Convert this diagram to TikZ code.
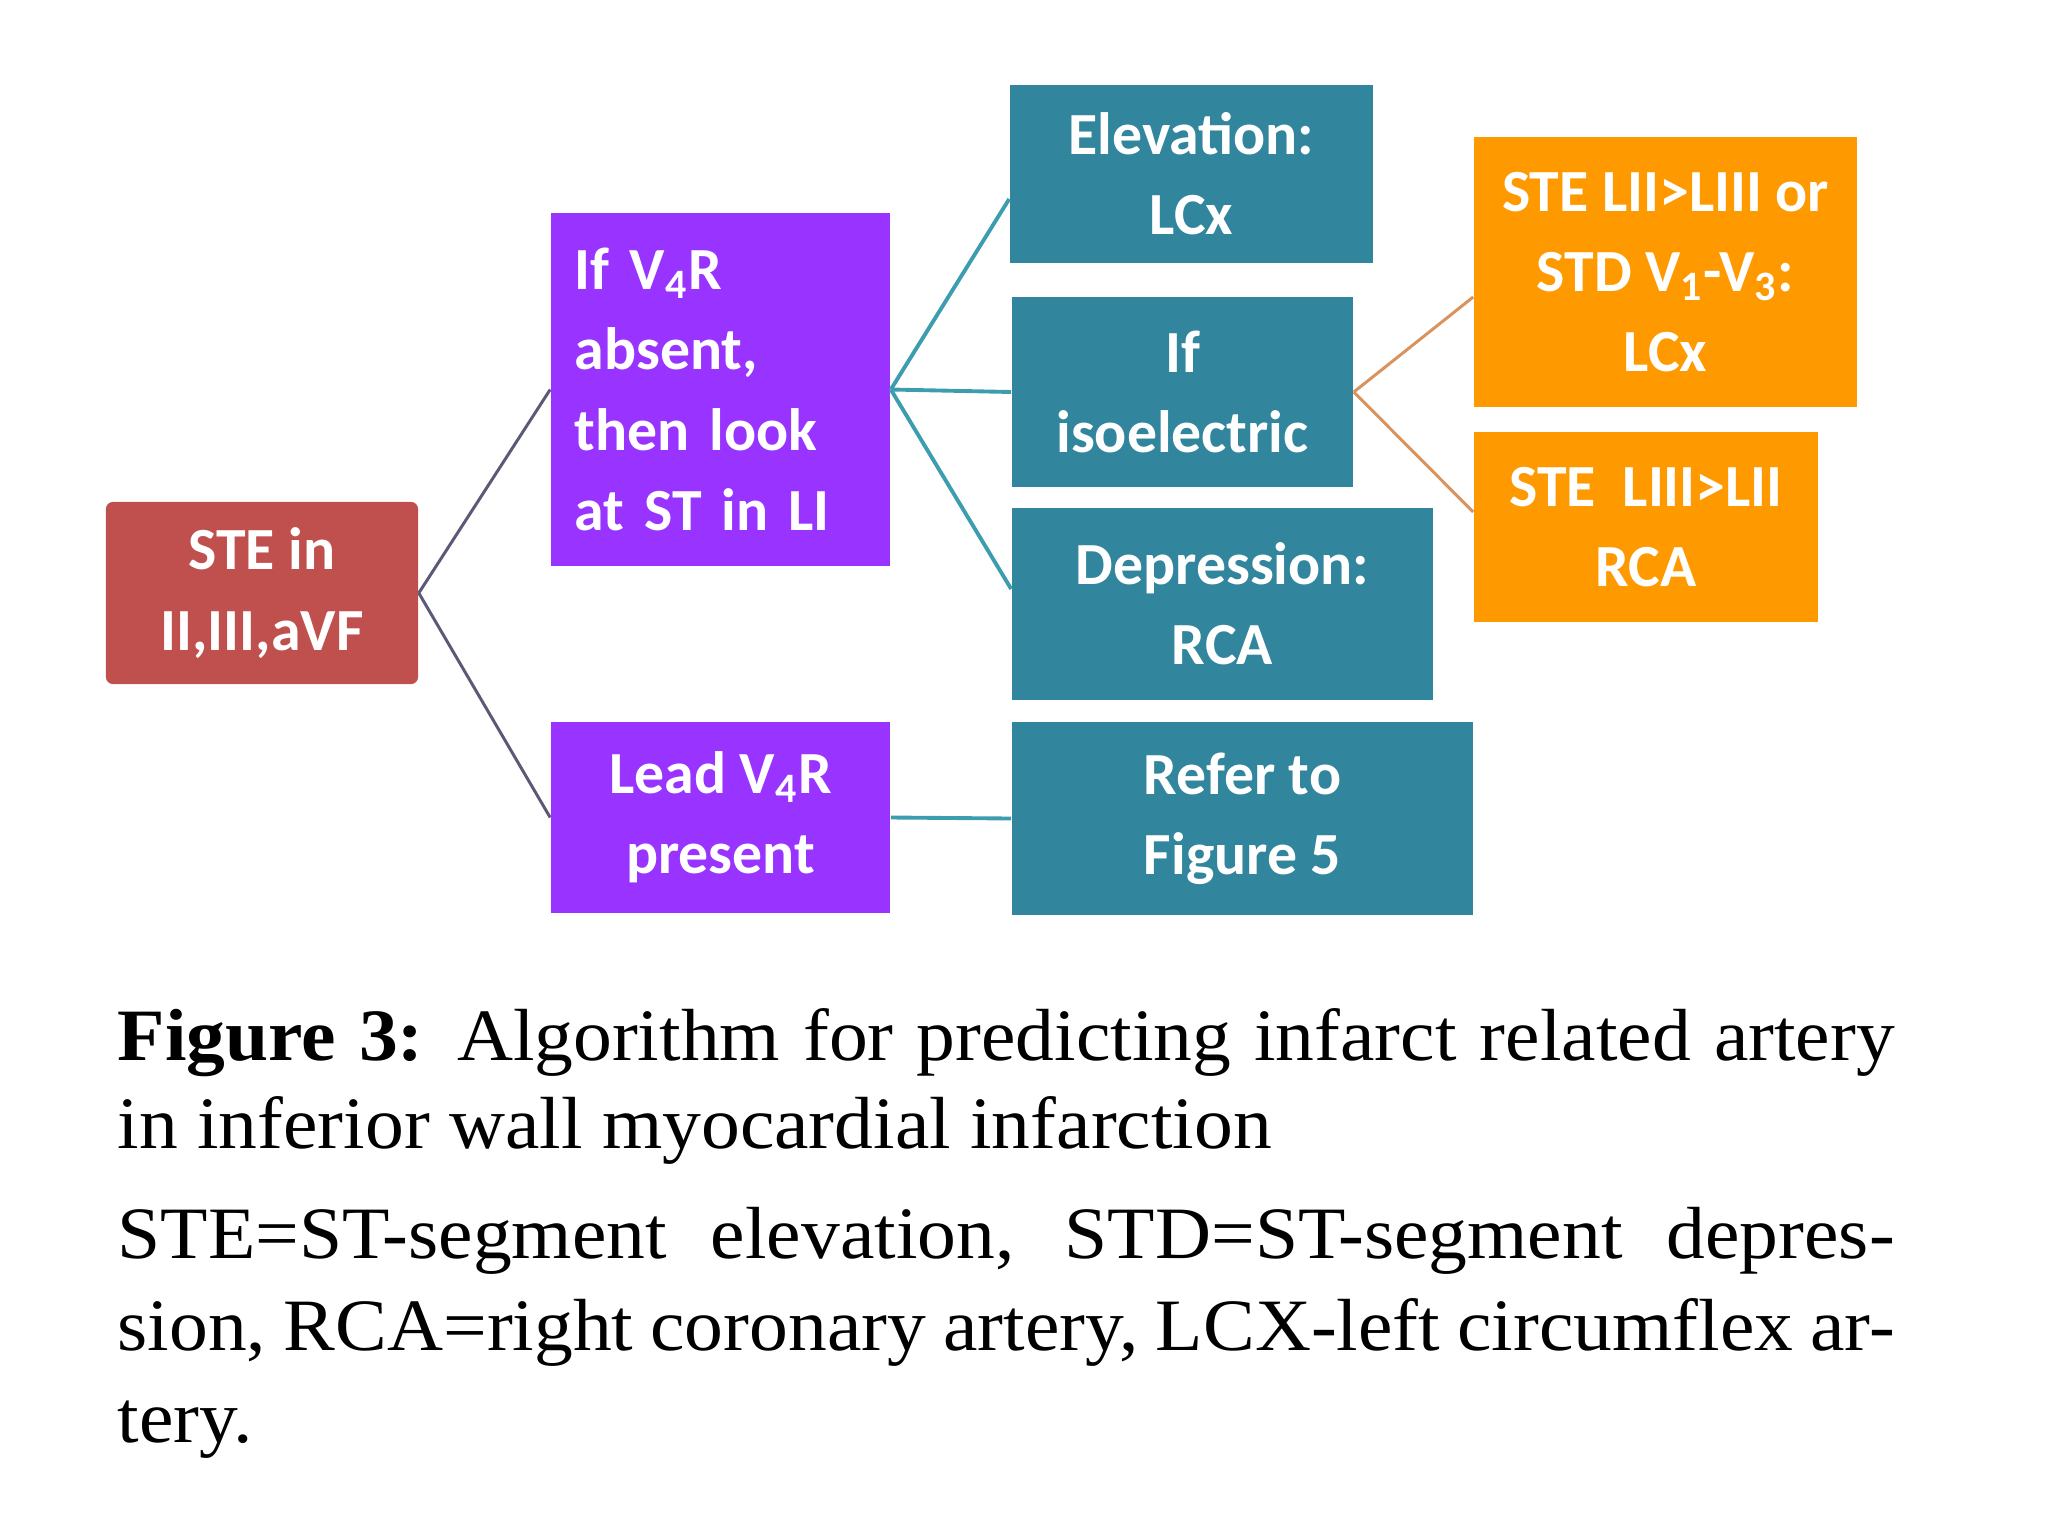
\documentclass[tikz,border=0pt]{standalone}
\usepackage{fontspec}
\usepackage{tikz}
\newfontfamily\boxfont{Carlito}
\newfontfamily\capfont[FakeStretch=1.05]{Liberation Serif}
\definecolor{stered}{HTML}{C0504D}
\definecolor{vfour}{HTML}{9933FF}
\definecolor{lead}{HTML}{31859C}
\definecolor{artery}{HTML}{FF9900}
\definecolor{slate}{HTML}{5A5A78}
\definecolor{tealline}{HTML}{3C9DAE}
\definecolor{tanline}{HTML}{D8935E}

\begin{document}
\begin{tikzpicture}[x=0.01cm,y=-0.01cm,
  box/.style={inner sep=0pt, text=white, align=center,
    font=\boxfont\bfseries\fontsize{17}{22.8}\selectfont},
  capline/.style={anchor=base west, inner sep=0pt,
    font=\capfont\fontsize{21}{24}\selectfont}]
  \useasboundingbox (0,0) rectangle (2048,1536);
  \node [box, fill=stered, rounded corners=2pt, minimum width=3.12cm, minimum height=1.82cm] (ste) at (262,593) {STE in\\II,III,aVF};
  \node [box, fill=vfour, align=left, text width=2.91cm, inner xsep=0.24cm, minimum height=3.53cm] (absent) at (720.5,389.5) {If V\textsubscript{4}R\\absent,\\then look\\at ST in LI};
  \node [box, fill=vfour, minimum width=3.39cm, minimum height=1.91cm] (present) at (720.5,817.5) {Lead V\textsubscript{4}R\\present};
  \node [box, fill=lead, minimum width=3.63cm, minimum height=1.78cm] (elev) at (1191.5,174) {Elevation:\\LCx};
  \node [box, fill=lead, minimum width=3.41cm, minimum height=1.90cm] (iso) at (1182.5,392) {If\\isoelectric};
  \node [box, fill=lead, minimum width=4.21cm, minimum height=1.92cm] (dep) at (1222.5,604) {Depression:\\RCA};
  \node [box, fill=lead, minimum width=4.61cm, minimum height=1.93cm] (refer) at (1242.5,818.5) {Refer to\\Figure 5};
  \node [box, fill=artery, minimum width=3.83cm, minimum height=2.70cm] (lcx) at (1665.5,272) {STE LII>LIII or\\STD V\textsubscript{1}-V\textsubscript{3}:\\LCx};
  \node [box, fill=artery, minimum width=3.44cm, minimum height=1.90cm] (rca) at (1646,527) {STE\ \ LIII>LII\\RCA};
  \draw [slate, line width=0.85pt] (ste.east) -- (absent.west);
  \draw [slate, line width=0.85pt] (ste.east) -- (present.west);
  \draw [tealline, line width=1.1pt] (absent.east) -- ([yshift=-0.25cm]elev.west);
  \draw [tealline, line width=1.1pt] (absent.east) -- (iso.west);
  \draw [tealline, line width=1.1pt] (absent.east) -- ([yshift=0.15cm]dep.west);
  \draw [tealline, line width=1.1pt] (present.east) -- (refer.west);
  \draw [tanline, line width=0.85pt] (iso.east) -- ([yshift=-0.25cm]lcx.west);
  \draw [tanline, line width=0.85pt] (iso.east) -- ([yshift=0.15cm]rca.west);
  \node [capline] (cap1) at (117,1060) {\makebox[17.76cm][s]{\textbf{Figure 3:} Algorithm for predicting infarct related artery}};
  \node [capline] (cap2) at (117,1148) {in inferior wall myocardial infarction};
  \node [capline] (cap3) at (117,1258) {\makebox[17.76cm][s]{STE=ST-segment elevation, STD=ST-segment depres-}};
  \node [capline] (cap4) at (117,1350) {\makebox[17.76cm][s]{sion, RCA=right coronary artery, LCX-left circumflex ar-}};
  \node [capline] (cap5) at (117,1442) {tery.};
\end{tikzpicture}
\end{document}
